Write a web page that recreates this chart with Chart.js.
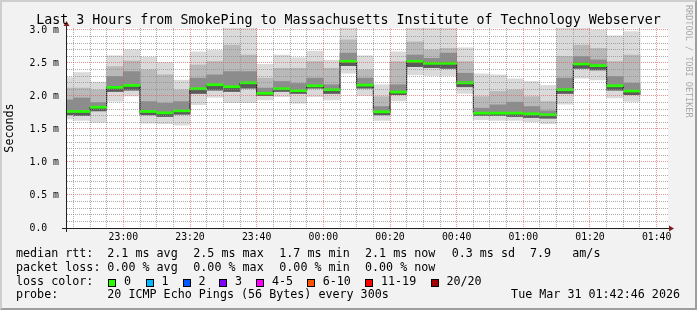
<!DOCTYPE html>
<html><head><meta charset="utf-8">
<script src="https://cdn.jsdelivr.net/npm/chart.js@4/dist/chart.umd.min.js"></script>
<style>
html,body{margin:0;padding:0;background:#f2f2f2;}
#wrap{position:relative;width:697px;height:310px;overflow:hidden;background:#f2f2f2;font-family:'DejaVu Sans Mono',monospace;color:#000;}
#c{position:absolute;left:0;top:0;}
#frame{position:absolute;left:0;top:0;width:697px;height:310px;box-sizing:border-box;border-style:solid;border-width:2px;border-color:#cecece #9e9e9e #9e9e9e #cecece;pointer-events:none;}
.t{position:absolute;white-space:pre;line-height:1;}
.title{left:0;width:697px;text-align:center;top:12.75px;font-size:13.3px;}
.lg{font-size:11.7px;}
.box{position:absolute;width:6px;height:6px;border:1px solid #000;top:279px;}
.wm{position:absolute;left:684px;top:5px;font-size:8.5px;line-height:1;writing-mode:vertical-rl;color:#a8a8a8;white-space:pre;}
</style>
</head><body>
<div id="wrap">
<canvas id="c" width="697" height="310"></canvas>
<div class="t title">Last 3 Hours from SmokePing to Massachusetts Institute of Technology Webserver</div>
<div class="wm">RRDTOOL / TOBI OETIKER</div>
<div id="legend"></div>
<div id="frame"></div>
</div>
<script>
// ---- data ----
const times = ["22:45","22:50","22:55","23:00","23:05","23:10","23:15","23:20","23:25","23:30",
  "23:35","23:40","23:45","23:50","23:55","00:00","00:05","00:10","00:15","00:20",
  "00:25","00:30","00:35","00:40","00:45","00:50","00:55","01:00","01:05","01:10",
  "01:15","01:20","01:25","01:30","01:35"];
const medianRtt = [1.765,1.765,1.83,2.13,2.16,1.765,1.745,1.775,2.11,2.17,
  2.14,2.20,2.04,2.11,2.08,2.155,2.095,2.525,2.165,1.76,
  2.06,2.525,2.495,2.495,2.20,1.74,1.74,1.74,1.73,1.715,
  2.095,2.485,2.46,2.155,2.075];
const smokeMax = [2.28,2.355,2.21,2.61,2.70,2.59,2.51,2.24,2.67,2.69,
  3.05,3.05,2.48,2.62,2.58,2.68,2.54,3.05,2.61,2.17,
  2.67,3.05,3.05,3.05,2.73,2.335,2.32,2.26,2.22,2.16,
  3.05,3.05,3.00,2.91,2.975];
const smokeUpper = [2.12,2.12,2.09,2.445,2.53,2.395,2.32,2.09,2.47,2.52,
  2.77,2.62,2.27,2.42,2.42,2.52,2.42,2.85,2.395,1.99,
  2.52,2.82,2.70,2.72,2.52,1.99,2.07,2.09,1.99,1.916,
  2.60,2.77,2.72,2.52,2.62];
const smokeInnerTop = [1.94,1.97,1.90,2.295,2.37,1.915,1.89,1.915,2.27,2.32,
  2.37,2.37,2.12,2.22,2.19,2.27,2.17,2.65,2.27,1.84,
  2.17,2.62,2.57,2.65,2.345,1.815,1.866,1.906,1.84,1.775,
  2.27,2.597,2.547,2.295,2.194];
const smokeInnerBot = [1.715,1.705,1.775,2.07,2.09,1.715,1.69,1.725,2.04,2.09,
  2.07,2.12,2.007,2.07,2.04,2.12,2.04,2.46,2.12,1.715,
  2.02,2.445,2.43,2.42,2.14,1.705,1.705,1.69,1.675,1.665,
  2.04,2.42,2.395,2.09,2.02];
const smokeMin = [1.65,1.63,1.60,1.92,2.00,1.59,1.58,1.56,1.87,1.98,
  1.90,1.90,1.94,1.99,1.89,1.99,1.94,2.345,2.007,1.63,
  1.926,2.32,2.31,2.31,2.04,1.64,1.63,1.63,1.61,1.58,
  1.876,2.27,2.244,1.97,1.916];
const yTickStep = 0.5;      // labelled ticks (ms)
const xMajorMinutes = 20;   // labelled time ticks
const lossLabels = ["0","1","2","3","4-5","6-10","11-19","20/20"];
const lossColors = ["#26ff00","#00b8ff","#0059ff","#7e00ff","#ff00ff","#ff5500","#ff0000","#a10000"];
const statsRtt = ["2.1 ms avg","2.5 ms max","1.7 ms min","2.1 ms now","0.3 ms sd","7.9","am/s"];
const statsLoss = ["0.00 % avg","0.00 % max","0.00 % min","0.00 % now"];

// ---- helpers ----
function toMin(s){const [h,m]=s.split(':').map(Number);let v=h*60+m;if(h>=12)v-=1440;return v;}
const centers = times.map(t => toMin(t) - 2.5);   // each sample covers the 5 minutes before its timestamp
const fmtTime = v => {const m=((v%1440)+1440)%1440;return String(Math.floor(m/60)).padStart(2,'0')+':'+String(m%60).padStart(2,'0');};
const near = (v, step) => Math.abs(v/step - Math.round(v/step)) < 1e-6;

function band(lo, hi){return centers.map((x,i)=>({x, y:[lo[i], hi[i]]}));}
const greenLo = medianRtt.map(v=>v-0.016), greenHi = medianRtt.map(v=>v+0.016);

const barBase = {type:'bar', borderWidth:0, grouped:false, barPercentage:1, categoryPercentage:1};

// ---- legend (text) ----
const lg = document.getElementById('legend');
function txt(s, left, top){const d=document.createElement('div');d.className='t lg';d.textContent=s;d.style.left=left+'px';d.style.top=top+'px';lg.appendChild(d);}
const rowTop = [248.4, 261.8, 276.1, 289.4];
txt('median rtt:',16,rowTop[0]);
[107.3,193.3,279.3,365,451.7,530,572.3].forEach((x,i)=>txt(statsRtt[i],x,rowTop[0]));
txt('packet loss:',16,rowTop[1]);
[107.3,193.3,279.3,365].forEach((x,i)=>txt(statsLoss[i],x,rowTop[1]));
txt('loss color:',16,rowTop[2]);
const boxX=[108.3,145.7,182.7,219.3,256.3,307,365.3,430.7];
boxX.forEach((x,i)=>{const b=document.createElement('div');b.className='box';b.style.left=x+'px';b.style.background=lossColors[i];lg.appendChild(b);txt(lossLabels[i],x+15.7,rowTop[2]);});
txt('probe:',16,rowTop[3]);
txt('20 ICMP Echo Pings (56 Bytes) every 300s',107.3,rowTop[3]);
(function(){const d=document.createElement('div');d.className='t lg';d.textContent='Tue Mar 31 01:42:46 2026';d.style.right=(697-680)+'px';d.style.top=rowTop[3]+'px';lg.appendChild(d);})();

// ---- plugins ----
const canvasBg = {id:'canvasBg', beforeDraw(chart){const {ctx, chartArea:a}=chart;ctx.save();ctx.fillStyle='#ffffff';ctx.fillRect(a.left,a.top,a.right-a.left,a.bottom-a.top);ctx.restore();}};
const arrows = {id:'arrows', afterDraw(chart){
  const {ctx, chartArea:a}=chart;ctx.save();
  ctx.strokeStyle='#1f1f1f';ctx.lineWidth=1;ctx.beginPath();
  ctx.moveTo(a.left-4,a.bottom+0.5);ctx.lineTo(a.right+2,a.bottom+0.5);
  ctx.moveTo(a.left+0.5,a.bottom+4);ctx.lineTo(a.left+0.5,a.top-3);ctx.stroke();
  ctx.fillStyle='#801f1f';ctx.beginPath();
  ctx.moveTo(a.right+1,a.bottom-2.5);ctx.lineTo(a.right+6,a.bottom+0.5);ctx.lineTo(a.right+1,a.bottom+3.5);ctx.closePath();ctx.fill();
  ctx.beginPath();ctx.moveTo(a.left-2.5,a.top-2);ctx.lineTo(a.left+0.5,a.top-7);ctx.lineTo(a.left+3.5,a.top-2);ctx.closePath();ctx.fill();
  ctx.restore();}};

const gridMinor='rgba(143,143,143,0.75)', gridMajor='rgba(222,79,79,0.6)';
const monoFont = {family:"'DejaVu Sans Mono', monospace", size:9.8};

new Chart(document.getElementById('c'), {
  data:{datasets:[
    {...barBase, data:band(smokeMin, smokeMax), backgroundColor:'#dadada', order:6},
    {...barBase, data:band(smokeInnerBot, smokeUpper), backgroundColor:'#b9b9b9', order:5},
    {...barBase, data:band(smokeInnerBot, smokeInnerTop), backgroundColor:'#8c8c8c', order:4},
    {...barBase, data:band(smokeInnerBot, medianRtt), backgroundColor:'#5a5a5a', order:3},
    {type:'line', data:centers.map((x,i)=>({x, y:medianRtt[i]})), stepped:'middle', borderColor:'#111', borderWidth:1, pointRadius:0, fill:false, order:2},
    {...barBase, data:band(greenLo, greenHi), backgroundColor:'#26ff00', order:1}
  ]},
  options:{
    responsive:false, animation:false, events:[],
    layout:{padding:{left:0, top:28, right:29, bottom:0}},
    plugins:{legend:{display:false}, tooltip:{enabled:false}, title:{display:false}},
    scales:{
      x:{type:'linear', offset:false, min:-77.2, max:103.4,
        afterFit(s){s.height=82;},
        afterBuildTicks(s){s.ticks=s.ticks.filter(t=>near(t.value,5));},
        ticks:{stepSize:5, includeBounds:false, autoSkip:false, maxRotation:0, padding:4, color:'#000', font:monoFont,
          callback:v=>near(v,xMajorMinutes)?fmtTime(v):''},
        grid:{offset:false, drawTicks:false, z:1, lineWidth:1,
          color:c=>near(c.tick.value,xMajorMinutes)?gridMajor:gridMinor},
        border:{display:true, color:'#1f1f1f', width:1, dash:[1,1]}
      },
      y:{type:'linear', min:0, max:3.03,
        afterFit(s){s.width=66;},
        afterBuildTicks(s){s.ticks=s.ticks.filter(t=>near(t.value,0.1));},
        ticks:{stepSize:0.1, includeBounds:false, autoSkip:false, padding:7, color:'#000', font:monoFont,
          callback:v=>near(v,yTickStep)?(Math.abs(v)<1e-9?'0.0  ':v.toFixed(1)+' m'):''},
        grid:{drawTicks:false, z:1, lineWidth:1,
          color:c=>near(c.tick.value,yTickStep)?gridMajor:gridMinor},
        border:{display:true, color:'#1f1f1f', width:1, dash:[1,1]},
        title:{display:true, text:'Seconds', color:'#000', padding:{top:3,bottom:3}, font:{family:"'DejaVu Sans Mono', monospace", size:11.7}}
      }
    }
  },
  plugins:[canvasBg, arrows]
});
</script>
</body></html>
